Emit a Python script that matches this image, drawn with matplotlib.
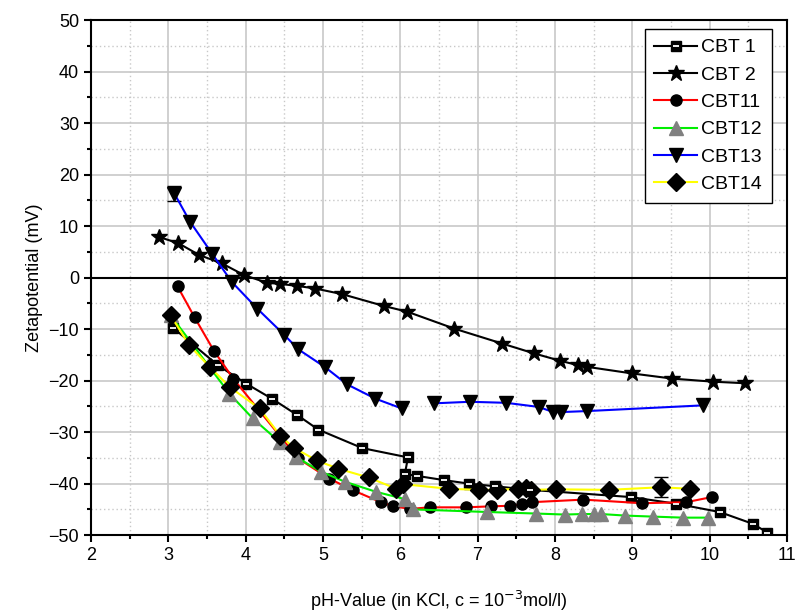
import matplotlib.pyplot as plt
import numpy as np
from matplotlib.ticker import MultipleLocator

plt.rcParams["font.family"] = ["Liberation Sans", "DejaVu Sans"]

# CBT 1 (half-filled squares, black line)
cbt1_x = [3.06, 3.64, 4.01, 4.34, 4.67, 4.94, 5.51, 6.10, 6.06, 6.22, 6.56, 6.89, 7.22,
          7.68, 8.98, 9.57, 10.13, 10.56, 10.75]
cbt1_y = [-9.7, -17.0, -20.6, -23.5, -26.7, -29.5, -33.1, -34.9, -38.1, -38.5, -39.3, -40.0,
          -40.5, -41.2, -42.6, -43.9, -45.5, -47.8, -49.5]

# CBT 2 (stars, black line)
cbt2_x = [2.88, 3.13, 3.40, 3.69, 3.98, 4.28, 4.44, 4.67, 4.90, 5.25, 5.79, 6.09, 6.70,
          7.32, 7.73, 8.06, 8.30, 8.41, 9.00, 9.52, 10.05, 10.46]
cbt2_y = [7.9, 6.7, 4.4, 2.8, 0.5, -1.0, -1.2, -1.6, -2.1, -3.2, -5.5, -6.6, -9.9,
          -12.8, -14.7, -16.1, -17.0, -17.3, -18.6, -19.6, -20.2, -20.5]

# CBT11 (circles, red line)
cbt11_x = [3.12, 3.34, 3.59, 3.84, 4.68, 5.08, 5.39, 5.75, 5.91, 6.13, 6.38, 6.85, 7.18,
           7.42, 7.58, 7.70, 8.37, 9.13, 9.70, 10.03]
cbt11_y = [-1.7, -7.7, -14.2, -19.6, -35.1, -39.0, -41.3, -43.6, -44.4, -44.9, -44.6, -44.6,
           -44.4, -44.3, -44.0, -43.6, -43.1, -43.8, -43.6, -42.6]

# CBT12 (gray triangles, green line)
cbt12_x = [3.03, 3.79, 4.09, 4.44, 4.65, 4.98, 5.28, 5.69, 6.06, 6.17, 7.12, 7.75, 8.13,
           8.35, 8.50, 8.60, 8.91, 9.27, 9.66, 9.98]
cbt12_y = [-7.3, -22.5, -27.3, -31.9, -34.8, -37.7, -39.6, -41.6, -43.0, -45.0, -45.5,
           -45.8, -46.0, -45.9, -45.9, -45.9, -46.2, -46.4, -46.6, -46.6]

# CBT13 (down triangles, blue line) - gap between the two runs
cbt13_x = [3.08, 3.28, 3.57, 3.82, 4.15, 4.50, 4.68, 5.03, 5.31, 5.68, 6.02, np.nan,
           6.44, 6.90, 7.37, 7.79, 7.98, 8.08, 8.42, 9.91]
cbt13_y = [16.3, 10.9, 4.6, -0.8, -6.0, -11.1, -13.9, -17.4, -20.7, -23.5, -25.4, np.nan,
           -24.4, -24.1, -24.3, -25.1, -26.1, -26.1, -25.9, -24.8]
cbt13_err = [1.5, 0, 0, 0, 0, 0, 0, 0, 0, 0, 0, 0, 0, 0, 0, 0, 0, 0, 0, 0]

# CBT14 (diamonds, yellow line)
cbt14_x = [3.03, 3.27, 3.54, 3.80, 4.18, 4.45, 4.62, 4.92, 5.20, 5.59, 5.95, 6.04, 6.63,
           7.02, 7.25, 7.52, 7.63, 7.69, 8.01, 8.70, 9.37, 9.75]
cbt14_y = [-7.3, -13.1, -17.4, -21.3, -25.4, -30.7, -33.0, -35.5, -37.1, -38.8, -41.0,
           -40.1, -41.0, -41.2, -41.2, -41.0, -40.9, -41.2, -41.1, -41.2, -40.7, -41.0]
cbt14_err = [0, 0, 0, 0, 0, 0, 0, 0, 0, 0, 0, 0, 0, 0, 0, 0, 0, 0, 0, 0, 1.9, 0]

fig = plt.figure(figsize=(7.98, 6.13), dpi=100)
ax = fig.add_axes([0.114, 0.127, 0.872, 0.840])

ax.axhline(0, color="black", lw=1.5, zorder=1)

lw = 1.5
h1, = ax.plot(cbt1_x, cbt1_y, color="black", lw=lw, marker="s", ms=7.5,
              mfc="black", mec="black", label="CBT 1", zorder=3)
# white stripe inside the squares
h1w, = ax.plot(cbt1_x, cbt1_y, ls="none", marker="_", ms=5, mew=1.3,
               mec="white", zorder=3.1)
h2, = ax.plot(cbt2_x, cbt2_y, color="black", lw=lw, marker="*", ms=12,
              mfc="black", mec="black", label="CBT 2", zorder=3)
h11, = ax.plot(cbt11_x, cbt11_y, color="red", lw=lw, marker="o", ms=8,
               mfc="black", mec="black", label="CBT11", zorder=3)
h12, = ax.plot(cbt12_x, cbt12_y, color="#00ee00", lw=lw, marker="^", ms=10,
               mfc="gray", mec="gray", label="CBT12", zorder=3)
h13, = ax.plot(cbt13_x, cbt13_y, color="blue", lw=lw, marker="v", ms=10,
               mfc="black", mec="black", label="CBT13", zorder=3)
h14, = ax.plot(cbt14_x, cbt14_y, color="yellow", lw=lw, marker="D", ms=9,
               mfc="black", mec="black", label="CBT14", zorder=3)

# error bars only where they were drawn
for xs, ys, es in [(cbt13_x, cbt13_y, cbt13_err), (cbt14_x, cbt14_y, cbt14_err)]:
    xs, ys, es = np.array(xs), np.array(ys), np.array(es)
    m = es > 0
    ax.errorbar(xs[m], ys[m], yerr=es[m], fmt="none", ecolor="black",
                elinewidth=1, capsize=5, zorder=2)

ax.set_xlim(2, 11)
ax.set_ylim(-50, 50)
ax.xaxis.set_major_locator(MultipleLocator(1))
ax.xaxis.set_minor_locator(MultipleLocator(0.5))
ax.yaxis.set_major_locator(MultipleLocator(10))
ax.yaxis.set_minor_locator(MultipleLocator(5))

ax.grid(which="major", color="#c8c8c8", lw=1.2, ls="-", zorder=0)
ax.grid(which="minor", color="#c8c8c8", lw=1.0, ls=(0, (1, 2)), zorder=0)
ax.set_axisbelow(True)

for s in ax.spines.values():
    s.set_linewidth(1.5)
ax.tick_params(which="major", direction="out", length=5, width=1.5, labelsize=13)
ax.tick_params(which="minor", direction="out", length=3, width=1.5)

ax.set_xlabel("pH-Value (in KCl, c = 10$^{-3}$mol/l)", fontsize=13, labelpad=18)
ax.set_ylabel("Zetapotential (mV)", fontsize=13, labelpad=4)

ax.legend(handles=[(h1, h1w), h2, h11, h12, h13, h14],
          labels=["CBT 1", "CBT 2", "CBT11", "CBT12", "CBT13", "CBT14"],
          loc="upper right", bbox_to_anchor=(0.978, 0.983), borderaxespad=0,
          fontsize=14, frameon=True, fancybox=False, edgecolor="black",
          framealpha=1, handlelength=2.2, borderpad=0.5,
          labelspacing=0.5, handletextpad=0.2)

fig.savefig("out.png", dpi=100)
